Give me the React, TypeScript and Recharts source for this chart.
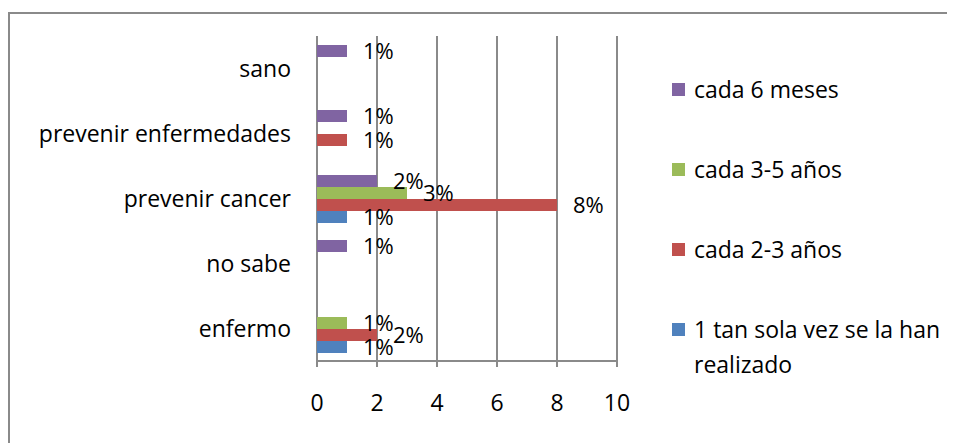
import { BarChart, Bar, XAxis, YAxis, CartesianGrid, LabelList } from 'recharts';

// categorías (de arriba hacia abajo)
const categories = ['sano', 'prevenir enfermedades', 'prevenir cancer', 'no sabe', 'enfermo'];

// valores por serie (null = sin barra)
const cada6Meses = [1, 1, 2, 1, null];
const cada3a5Anos = [null, null, 3, null, 1];
const cada2a3Anos = [null, 1, 8, null, 2];
const unaSolaVez = [null, null, 1, null, 1];

const xTicks = [0, 2, 4, 6, 8, 10];
const edgeTicks = [0, 1, 2, 3, 4, 5];

const series = [
  { key: 's6m', name: 'cada 6 meses', color: '#8064A2', values: cada6Meses },
  { key: 's35', name: 'cada 3-5 años', color: '#9BBB59', values: cada3a5Anos },
  { key: 's23', name: 'cada 2-3 años', color: '#C0504D', values: cada2a3Anos },
  { key: 's1', name: '1 tan sola vez se la han realizado', color: '#4F81BD', values: unaSolaVez },
];

const data = categories.map((c, i) => {
  const row: Record<string, string | number | null> = { name: c };
  series.forEach((s) => { row[s.key] = s.values[i]; });
  return row;
});

const FONT = '"Open Sans", sans-serif';
const GRAY = '#8a8a8a';

export default function App() {
  return (
    <div
      style={{
        position: 'relative',
        marginTop: 4,
        width: 945,
        height: 429,
        borderLeft: `2px solid ${GRAY}`,
        borderTop: `2px solid ${GRAY}`,
        fontFamily: FONT,
      }}
    >
      <BarChart
        width={937}
        height={429}
        data={data}
        layout="vertical"
        barSize={12}
        barGap={0}
        margin={{ top: 22, right: 330, left: 0, bottom: 22 }}
      >
        <CartesianGrid horizontal={false} stroke={GRAY} strokeWidth={2} />
        <XAxis
          type="number"
          domain={[0, 10]}
          ticks={xTicks}
          interval={0}
          height={60}
          axisLine={{ stroke: GRAY, strokeWidth: 2 }}
          tickLine={{ stroke: GRAY, strokeWidth: 2 }}
          tickSize={6}
          tickMargin={28}
          tick={{ fontSize: 23, fill: '#000', fontFamily: FONT }}
        />
        {/* eje auxiliar: marcas en los bordes de cada categoría */}
        <YAxis
          yAxisId="edges"
          type="number"
          domain={[0, 5]}
          ticks={edgeTicks}
          allowDataOverflow
          width={0}
          interval={0}
          axisLine={{ stroke: GRAY, strokeWidth: 2 }}
          tickLine={{ stroke: GRAY, strokeWidth: 2 }}
          tickSize={6}
          tickFormatter={() => ''}
        />
        <YAxis
          type="category"
          dataKey="name"
          width={307}
          interval={0}
          axisLine={false}
          tickLine={false}
          tickSize={0}
          tickMargin={26}
          tick={{ fontSize: 23, fill: '#000', fontFamily: FONT }}
        />
        {series.map((s) => (
          <Bar key={s.key} dataKey={s.key} name={s.name} fill={s.color} isAnimationActive={false}>
            <LabelList
              dataKey={s.key}
              position="right"
              offset={16}
              formatter={(v: any) => (v == null ? '' : `${v}%`)}
              style={{ fontSize: 22, fill: '#000', fontFamily: FONT }}
            />
          </Bar>
        ))}
      </BarChart>

      {/* leyenda */}
      <div style={{ position: 'absolute', left: 662, top: 58, width: 290 }}>
        {series.map((s, i) => (
          <div
            key={s.key}
            style={{
              position: 'absolute',
              top: i * 80,
              left: 0,
              display: 'flex',
              alignItems: 'flex-start',
              fontSize: 23,
              lineHeight: '35px',
              color: '#000',
            }}
          >
            <div style={{ width: 13, height: 13, background: s.color, marginTop: 11, marginRight: 9, flex: 'none' }} />
            <div style={{ width: 262 }}>{s.name}</div>
          </div>
        ))}
      </div>
    </div>
  );
}
